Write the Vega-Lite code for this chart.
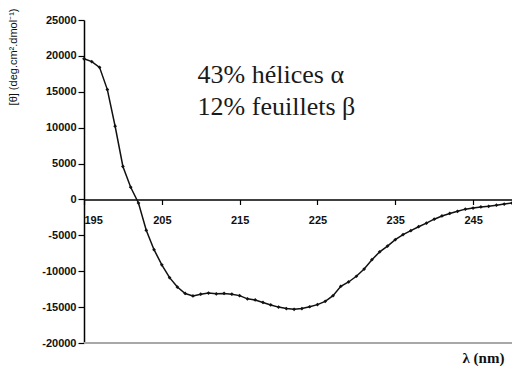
{
  "$schema": "https://vega.github.io/schema/vega-lite/v6.json",
  "autosize": {"type": "none"},
  "padding": {"left": 84, "top": 20, "right": 0, "bottom": 23},
  "width": 428,
  "height": 323,
  "background": "white",
  "config": {"view": {"stroke": null}},
  "datasets": {
    "cd": [
      {"nm": 195, "theta": 19600}, {"nm": 196, "theta": 19200}, {"nm": 197, "theta": 18400},
      {"nm": 198, "theta": 15300}, {"nm": 199, "theta": 10200}, {"nm": 200, "theta": 4600},
      {"nm": 201, "theta": 1700}, {"nm": 202, "theta": -500}, {"nm": 203, "theta": -4300},
      {"nm": 204, "theta": -7000}, {"nm": 205, "theta": -9100}, {"nm": 206, "theta": -10900},
      {"nm": 207, "theta": -12200}, {"nm": 208, "theta": -13100}, {"nm": 209, "theta": -13450},
      {"nm": 210, "theta": -13200}, {"nm": 211, "theta": -13050}, {"nm": 212, "theta": -13150},
      {"nm": 213, "theta": -13100}, {"nm": 214, "theta": -13200}, {"nm": 215, "theta": -13400},
      {"nm": 216, "theta": -13850}, {"nm": 217, "theta": -14000}, {"nm": 218, "theta": -14350},
      {"nm": 219, "theta": -14700}, {"nm": 220, "theta": -15000}, {"nm": 221, "theta": -15200},
      {"nm": 222, "theta": -15300}, {"nm": 223, "theta": -15200}, {"nm": 224, "theta": -14950},
      {"nm": 225, "theta": -14650}, {"nm": 226, "theta": -14200}, {"nm": 227, "theta": -13400},
      {"nm": 228, "theta": -12100}, {"nm": 229, "theta": -11500}, {"nm": 230, "theta": -10700},
      {"nm": 231, "theta": -9700}, {"nm": 232, "theta": -8400}, {"nm": 233, "theta": -7300},
      {"nm": 234, "theta": -6500}, {"nm": 235, "theta": -5600}, {"nm": 236, "theta": -4900},
      {"nm": 237, "theta": -4350}, {"nm": 238, "theta": -3800}, {"nm": 239, "theta": -3300},
      {"nm": 240, "theta": -2750}, {"nm": 241, "theta": -2300}, {"nm": 242, "theta": -1950},
      {"nm": 243, "theta": -1650}, {"nm": 244, "theta": -1350}, {"nm": 245, "theta": -1200},
      {"nm": 246, "theta": -1050}, {"nm": 247, "theta": -950}, {"nm": 248, "theta": -800},
      {"nm": 249, "theta": -650}, {"nm": 250, "theta": -500}
    ],
    "notes": [
      {"nm": 209.6, "theta": 16250, "label": "43% hélices α"},
      {"nm": 209.6, "theta": 11800, "label": "12% feuillets β"}
    ],
    "base": [
      {"nm": 195, "nm2": 250, "theta": -20000}
    ]
  },
  "encoding": {
    "x": {
      "field": "nm", "type": "quantitative",
      "scale": {"domain": [195, 250], "nice": false, "zero": false},
      "axis": {
        "orient": "bottom", "offset": -143.5,
        "values": [195, 205, 215, 225, 235, 245],
        "grid": false,
        "labelOverlap": false,
        "domainColor": "#000000", "domainWidth": 1.5,
        "tickColor": "#000000", "tickWidth": 1.2, "tickSize": 5,
        "labelFont": "Liberation Sans", "labelFontSize": 11, "labelFontWeight": "bold",
        "labelColor": "#111111", "labelPadding": 10,
        "title": "λ (nm)",
        "titleFont": "Liberation Serif", "titleFontSize": 15, "titleFontWeight": "bold",
        "titleColor": "#111111",
        "titleAlign": "left", "titleBaseline": "middle",
        "titleX": 378, "titleY": 158
      }
    },
    "y": {
      "field": "theta", "type": "quantitative",
      "scale": {"domain": [-20000, 25000], "nice": false, "zero": false},
      "axis": {
        "values": [-20000, -15000, -10000, -5000, 0, 5000, 10000, 15000, 20000, 25000],
        "grid": false,
        "labelOverlap": false, "labelSeparation": 0,
        "labelExpr": "'' + datum.value",
        "domainColor": "#000000", "domainWidth": 1.5,
        "tickColor": "#000000", "tickWidth": 1.2, "tickSize": 6,
        "labelFont": "Liberation Sans", "labelFontSize": 11, "labelFontWeight": "bold",
        "labelColor": "#111111", "labelPadding": 2,
        "title": "[θ] (deg.cm².dmol⁻¹)",
        "titleFont": "Liberation Sans", "titleFontSize": 11, "titleFontWeight": "normal",
        "titleColor": "#111111",
        "titleAngle": -90, "titleAlign": "right", "titleBaseline": "middle",
        "titleX": -71, "titleY": -12
      }
    }
  },
  "layer": [
    {
      "data": {"name": "base"},
      "mark": {"type": "rule", "color": "#a8a8a8", "strokeWidth": 2},
      "encoding": {
        "x2": {"field": "nm2"}
      }
    },
    {
      "data": {"name": "cd"},
      "mark": {
        "type": "line",
        "color": "#111111",
        "strokeWidth": 1.5,
        "point": {"filled": true, "size": 14, "shape": "diamond", "color": "#111111"}
      }
    },
    {
      "data": {"name": "notes"},
      "mark": {"type": "text", "align": "left", "baseline": "alphabetic", "font": "Liberation Serif", "fontSize": 26, "color": "#1a1a1a"},
      "encoding": {
        "text": {"field": "label"}
      }
    }
  ]
}
